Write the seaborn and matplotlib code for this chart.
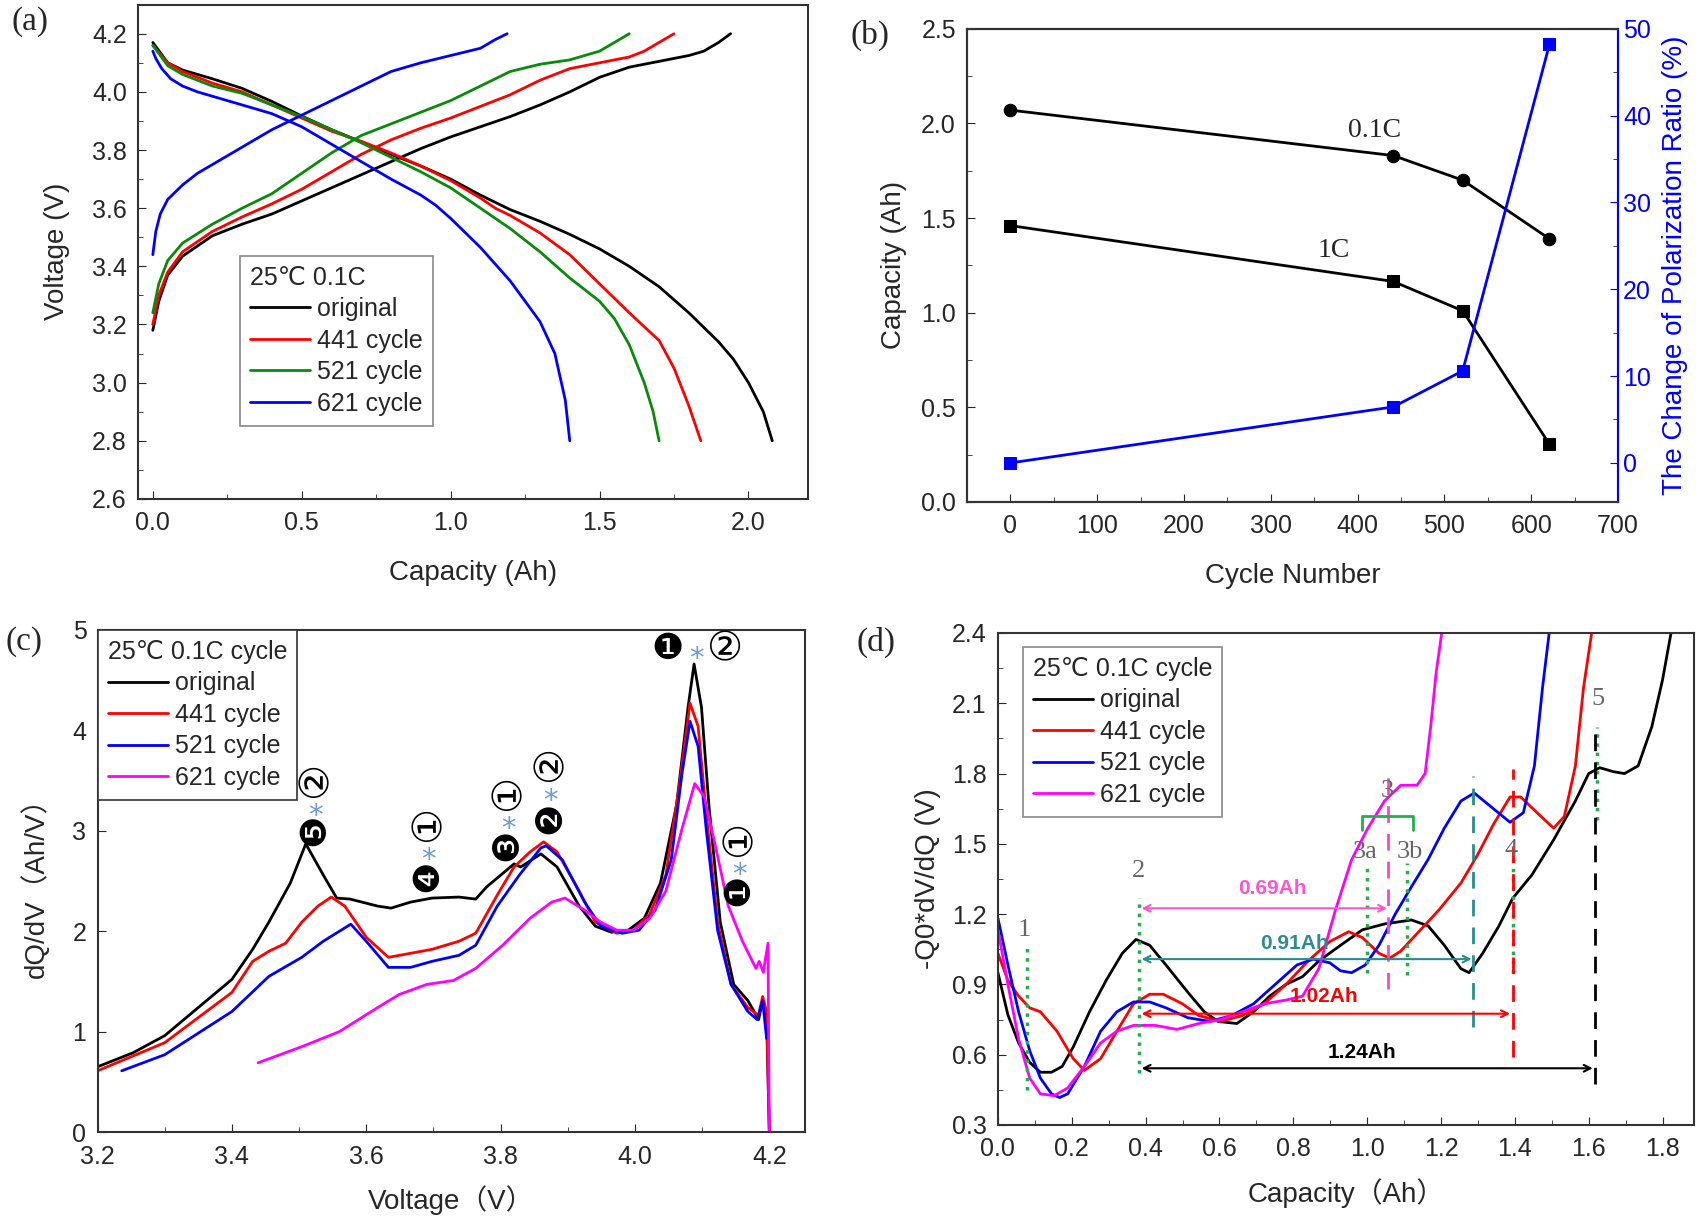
import numpy as np
import pandas as pd
import matplotlib
matplotlib.use("Agg")
import matplotlib.pyplot as plt
import seaborn as sns
from matplotlib.ticker import MultipleLocator

## (a) charge / discharge curves at 25C 0.1C
a_cap_dis_orig = [0, 0.05, 0.1, 0.2, 0.3, 0.4, 0.5, 0.6, 0.7, 0.8, 0.9, 1.0, 1.1, 1.2, 1.3, 1.4, 1.5, 1.6, 1.7, 1.8, 1.9, 1.95, 2.0, 2.05, 2.08]
a_v_dis_orig = [4.17, 4.10, 4.075, 4.045, 4.012, 3.967, 3.917, 3.87, 3.828, 3.785, 3.745, 3.70, 3.645, 3.595, 3.555, 3.51, 3.46, 3.40, 3.33, 3.24, 3.14, 3.08, 3.0, 2.9, 2.8]
a_cap_chg_orig = [0, 0.02, 0.05, 0.1, 0.2, 0.3, 0.4, 0.5, 0.6, 0.7, 0.8, 0.9, 1.0, 1.1, 1.2, 1.3, 1.4, 1.5, 1.6, 1.7, 1.8, 1.85, 1.9, 1.94]
a_v_chg_orig = [3.18, 3.28, 3.37, 3.435, 3.505, 3.545, 3.58, 3.625, 3.67, 3.715, 3.76, 3.805, 3.845, 3.88, 3.915, 3.955, 4.0, 4.05, 4.085, 4.105, 4.125, 4.14, 4.17, 4.2]

a_cap_dis_441 = [0, 0.05, 0.1, 0.2, 0.3, 0.4, 0.5, 0.6, 0.7, 0.8, 0.9, 1.0, 1.1, 1.15, 1.2, 1.3, 1.4, 1.5, 1.6, 1.7, 1.75, 1.8, 1.84]
a_v_dis_441 = [4.16, 4.10, 4.07, 4.03, 4.0, 3.955, 3.91, 3.865, 3.83, 3.79, 3.745, 3.695, 3.635, 3.60, 3.575, 3.515, 3.44, 3.34, 3.24, 3.145, 3.05, 2.92, 2.8]
a_cap_chg_441 = [0, 0.02, 0.05, 0.1, 0.2, 0.3, 0.4, 0.5, 0.6, 0.7, 0.8, 0.9, 1.0, 1.1, 1.2, 1.3, 1.4, 1.5, 1.6, 1.65, 1.7, 1.75]
a_v_chg_441 = [3.2, 3.30, 3.38, 3.45, 3.52, 3.57, 3.615, 3.665, 3.725, 3.785, 3.835, 3.875, 3.91, 3.95, 3.99, 4.04, 4.08, 4.10, 4.12, 4.14, 4.17, 4.2]

a_cap_dis_521 = [0, 0.05, 0.1, 0.2, 0.3, 0.4, 0.5, 0.6, 0.7, 0.8, 0.9, 1.0, 1.1, 1.2, 1.3, 1.4, 1.5, 1.55, 1.6, 1.65, 1.68, 1.70]
a_v_dis_521 = [4.16, 4.09, 4.06, 4.02, 3.995, 3.955, 3.915, 3.87, 3.825, 3.775, 3.725, 3.67, 3.60, 3.53, 3.45, 3.36, 3.28, 3.22, 3.13, 3.0, 2.9, 2.8]
a_cap_chg_521 = [0, 0.02, 0.05, 0.1, 0.2, 0.3, 0.4, 0.5, 0.6, 0.7, 0.8, 0.9, 1.0, 1.1, 1.2, 1.3, 1.4, 1.5, 1.55, 1.6]
a_v_chg_521 = [3.24, 3.34, 3.42, 3.48, 3.545, 3.60, 3.65, 3.72, 3.79, 3.85, 3.89, 3.93, 3.97, 4.02, 4.07, 4.095, 4.11, 4.14, 4.17, 4.2]

a_cap_dis_621 = [0, 0.01, 0.03, 0.06, 0.1, 0.15, 0.2, 0.3, 0.4, 0.5, 0.6, 0.7, 0.8, 0.9, 0.95, 1.0, 1.1, 1.2, 1.3, 1.35, 1.385, 1.40]
a_v_dis_621 = [4.14, 4.115, 4.08, 4.045, 4.02, 4.0, 3.985, 3.955, 3.925, 3.88, 3.82, 3.76, 3.70, 3.645, 3.61, 3.565, 3.465, 3.35, 3.21, 3.10, 2.94, 2.8]
a_cap_chg_621 = [0, 0.01, 0.025, 0.05, 0.1, 0.15, 0.2, 0.3, 0.4, 0.5, 0.6, 0.7, 0.8, 0.9, 1.0, 1.1, 1.15, 1.19]
a_v_chg_621 = [3.44, 3.52, 3.58, 3.63, 3.68, 3.72, 3.75, 3.81, 3.87, 3.92, 3.97, 4.02, 4.07, 4.10, 4.125, 4.15, 4.18, 4.2]

## (b) capacity fade and polarization
b_cycles = [0, 441, 521, 621]
b_cap_01c = [2.07, 1.83, 1.70, 1.39]
b_cap_1c = [1.46, 1.165, 1.01, 0.305]
b_polar = [0, 6.45, 10.6, 48.2]

## (c) dQ/dV
c_v_orig = [3.2, 3.253, 3.3, 3.35, 3.4, 3.431, 3.455, 3.487, 3.51, 3.536, 3.556, 3.576, 3.617, 3.637, 3.666, 3.698, 3.738, 3.763, 3.779, 3.82, 3.83, 3.86, 3.884, 3.917, 3.941, 3.965, 3.99, 4.014, 4.038, 4.062, 4.079, 4.088, 4.099, 4.11, 4.127, 4.147, 4.168, 4.184, 4.19, 4.196, 4.2]
c_dq_orig = [0.65, 0.79, 0.96, 1.24, 1.52, 1.82, 2.09, 2.48, 2.87, 2.56, 2.33, 2.32, 2.25, 2.23, 2.29, 2.33, 2.34, 2.32, 2.44, 2.67, 2.64, 2.77, 2.64, 2.25, 2.05, 1.99, 2.01, 2.13, 2.48, 3.26, 4.23, 4.66, 4.23, 3.26, 2.09, 1.47, 1.31, 1.12, 1.31, 1.12, 0.0]
c_v_441 = [3.2, 3.3, 3.4, 3.431, 3.455, 3.48, 3.504, 3.528, 3.548, 3.568, 3.6, 3.633, 3.666, 3.698, 3.738, 3.763, 3.795, 3.82, 3.844, 3.864, 3.884, 3.917, 3.941, 3.973, 3.998, 4.022, 4.046, 4.066, 4.082, 4.094, 4.106, 4.123, 4.143, 4.168, 4.184, 4.19, 4.196, 4.2]
c_dq_441 = [0.61, 0.89, 1.39, 1.70, 1.80, 1.88, 2.09, 2.25, 2.34, 2.25, 1.94, 1.74, 1.78, 1.82, 1.90, 1.98, 2.36, 2.64, 2.79, 2.89, 2.79, 2.40, 2.09, 1.98, 2.01, 2.17, 2.56, 3.45, 4.27, 4.04, 3.18, 2.09, 1.47, 1.24, 1.16, 1.35, 1.2, 0.0]
c_v_521 = [3.236, 3.3, 3.4, 3.455, 3.504, 3.536, 3.577, 3.6, 3.633, 3.666, 3.698, 3.738, 3.763, 3.795, 3.828, 3.86, 3.868, 3.892, 3.925, 3.949, 3.981, 4.006, 4.03, 4.054, 4.07, 4.082, 4.094, 4.106, 4.123, 4.143, 4.168, 4.182, 4.19, 4.196]
c_dq_521 = [0.61, 0.77, 1.20, 1.55, 1.74, 1.90, 2.07, 1.90, 1.64, 1.64, 1.70, 1.76, 1.86, 2.25, 2.56, 2.83, 2.85, 2.71, 2.29, 2.05, 1.98, 2.01, 2.21, 2.71, 3.57, 4.09, 3.84, 3.02, 2.01, 1.47, 1.20, 1.12, 1.31, 0.93]
c_v_621 = [3.439, 3.504, 3.56, 3.617, 3.649, 3.69, 3.73, 3.763, 3.803, 3.844, 3.876, 3.896, 3.925, 3.949, 3.973, 3.998, 4.022, 4.046, 4.07, 4.089, 4.103, 4.119, 4.139, 4.16, 4.18, 4.185, 4.191, 4.198, 4.2]
c_dq_621 = [0.69, 0.85, 1.0, 1.24, 1.37, 1.47, 1.51, 1.63, 1.86, 2.13, 2.29, 2.33, 2.21, 2.09, 2.01, 2.01, 2.13, 2.40, 3.02, 3.47, 3.34, 2.87, 2.25, 1.90, 1.63, 1.70, 1.59, 1.88, 0.0]

## (d) -Q0*dV/dQ
d_cap_orig = [0, 0.027, 0.056, 0.086, 0.115, 0.145, 0.174, 0.204, 0.248, 0.293, 0.337, 0.374, 0.411, 0.455, 0.514, 0.559, 0.596, 0.647, 0.692, 0.736, 0.78, 0.825, 0.869, 0.928, 0.987, 1.047, 1.12, 1.165, 1.209, 1.254, 1.276, 1.313, 1.357, 1.394, 1.446, 1.505, 1.564, 1.6, 1.63, 1.667, 1.697, 1.734, 1.771, 1.8, 1.823]
d_val_orig = [0.95, 0.77, 0.65, 0.567, 0.525, 0.525, 0.55, 0.633, 0.783, 0.917, 1.033, 1.092, 1.067, 0.983, 0.867, 0.783, 0.742, 0.733, 0.783, 0.85, 0.9, 0.933, 1.0, 1.067, 1.133, 1.158, 1.175, 1.15, 1.067, 0.967, 0.95, 1.033, 1.15, 1.267, 1.367, 1.517, 1.683, 1.8, 1.825, 1.808, 1.80, 1.833, 2.0, 2.2, 2.4]
d_cap_441 = [0, 0.027, 0.056, 0.086, 0.115, 0.16, 0.204, 0.234, 0.278, 0.322, 0.367, 0.411, 0.448, 0.5, 0.544, 0.603, 0.662, 0.721, 0.78, 0.84, 0.899, 0.95, 0.987, 1.032, 1.061, 1.091, 1.135, 1.194, 1.254, 1.298, 1.342, 1.387, 1.416, 1.46, 1.505, 1.534, 1.564, 1.586, 1.608]
d_val_441 = [1.033, 0.917, 0.85, 0.8, 0.783, 0.7, 0.583, 0.533, 0.583, 0.7, 0.817, 0.858, 0.858, 0.817, 0.767, 0.742, 0.767, 0.817, 0.9, 1.0, 1.083, 1.125, 1.10, 1.033, 1.012, 1.042, 1.117, 1.217, 1.333, 1.45, 1.583, 1.70, 1.70, 1.633, 1.567, 1.617, 1.833, 2.167, 2.4]
d_cap_521 = [0, 0.027, 0.056, 0.086, 0.115, 0.145, 0.167, 0.189, 0.234, 0.278, 0.322, 0.367, 0.411, 0.455, 0.514, 0.574, 0.633, 0.692, 0.751, 0.81, 0.854, 0.899, 0.928, 0.958, 0.995, 1.032, 1.076, 1.12, 1.165, 1.209, 1.254, 1.29, 1.342, 1.387, 1.423, 1.453, 1.475, 1.493]
d_val_521 = [1.183, 0.983, 0.783, 0.617, 0.50, 0.433, 0.417, 0.433, 0.55, 0.70, 0.783, 0.825, 0.825, 0.80, 0.758, 0.742, 0.767, 0.817, 0.90, 0.983, 1.008, 0.992, 0.958, 0.95, 0.983, 1.067, 1.20, 1.317, 1.433, 1.567, 1.683, 1.717, 1.65, 1.592, 1.633, 1.833, 2.167, 2.4]
d_cap_621 = [0, 0.027, 0.056, 0.086, 0.115, 0.152, 0.189, 0.234, 0.278, 0.322, 0.367, 0.426, 0.485, 0.544, 0.603, 0.662, 0.721, 0.78, 0.825, 0.869, 0.914, 0.958, 1.002, 1.047, 1.091, 1.135, 1.157, 1.172, 1.187, 1.202]
d_val_621 = [1.133, 0.90, 0.667, 0.50, 0.433, 0.425, 0.458, 0.55, 0.65, 0.70, 0.725, 0.725, 0.708, 0.733, 0.75, 0.783, 0.817, 0.833, 0.85, 0.967, 1.217, 1.433, 1.567, 1.683, 1.75, 1.75, 1.80, 2.0, 2.233, 2.4]

legend_names = ['original', '441 cycle', '521 cycle', '621 cycle']

sns.set_style("ticks")
plt.rcParams['font.family'] = ['Liberation Sans', 'DejaVu Sans', 'Noto Sans CJK SC']
plt.rcParams['xtick.direction'] = 'in'
plt.rcParams['ytick.direction'] = 'in'
plt.rcParams['axes.linewidth'] = 1.5
plt.rcParams['axes.edgecolor'] = '#333333'
plt.rcParams['xtick.major.size'] = 6
plt.rcParams['ytick.major.size'] = 6
plt.rcParams['xtick.minor.size'] = 3.5
plt.rcParams['ytick.minor.size'] = 3.5
TICK = 18
LAB = 20
LEGF = 18
SERIF = ['Liberation Serif', 'DejaVu Serif']


def draw(ax, x, y, color, lw=2.0, **kw):
    sns.lineplot(x=x, y=y, sort=False, estimator=None, color=color,
                 linewidth=lw, ax=ax, legend=False, **kw)
    return ax.lines[-1]


def make_legend(ax, handles, title, **kw):
    leg = ax.legend(handles, legend_names, title=title, fontsize=LEGF,
                    title_fontsize=LEGF, fancybox=False, handlelength=2.4,
                    handletextpad=0.3, labelspacing=0.3, borderpad=0.4,
                    alignment='left', framealpha=1, **kw)
    leg.get_frame().set_linewidth(1.2)
    return leg


fig = plt.figure(figsize=(17.05, 12.22), dpi=100)

# ---------------- (a)
axa = fig.add_axes([0.0809, 0.5917, 0.393, 0.4045])
cols_a = ['black', 'red', '#0a8a0a', 'blue']
curves_a = [(a_cap_dis_orig, a_v_dis_orig, a_cap_chg_orig, a_v_chg_orig),
            (a_cap_dis_441, a_v_dis_441, a_cap_chg_441, a_v_chg_441),
            (a_cap_dis_521, a_v_dis_521, a_cap_chg_521, a_v_chg_521),
            (a_cap_dis_621, a_v_dis_621, a_cap_chg_621, a_v_chg_621)]
handles_a = []
for (xd, yd, xc, yc), c in zip(curves_a, cols_a):
    h = draw(axa, xd, yd, c)
    draw(axa, xc, yc, c)
    handles_a.append(h)
axa.set_xlim(-0.05, 2.2)
axa.set_ylim(2.6, 4.3)
axa.xaxis.set_major_locator(MultipleLocator(0.5))
axa.xaxis.set_minor_locator(MultipleLocator(0.25))
axa.yaxis.set_major_locator(MultipleLocator(0.2))
axa.yaxis.set_minor_locator(MultipleLocator(0.1))
axa.set_xlabel('Capacity (Ah)', fontsize=LAB, labelpad=18)
axa.set_ylabel('Voltage (V)', fontsize=LAB, labelpad=16)
make_legend(axa, handles_a, '25℃ 0.1C', loc='lower left',
            bbox_to_anchor=(0.133, 0.123), edgecolor='#888888')

# ---------------- (b)
axb = fig.add_axes([0.5672, 0.5892, 0.3818, 0.3873])
sns.lineplot(x=b_cycles, y=b_cap_01c, color='black', marker='o', markersize=9,
             markeredgecolor='black', linewidth=2, ax=axb, legend=False)
sns.lineplot(x=b_cycles, y=b_cap_1c, color='black', marker='s', markersize=8,
             markeredgecolor='black', linewidth=2, ax=axb, legend=False)
axb.set_xlim(-50, 700)
axb.set_ylim(0, 2.5)
axb.xaxis.set_major_locator(MultipleLocator(100))
axb.xaxis.set_minor_locator(MultipleLocator(50))
axb.yaxis.set_major_locator(MultipleLocator(0.5))
axb.yaxis.set_minor_locator(MultipleLocator(0.25))
axb.set_xlabel('Cycle Number', fontsize=LAB, labelpad=18)
axb.set_ylabel('Capacity (Ah)', fontsize=LAB, labelpad=10)
axb.text(420, 1.96, '0.1C', fontsize=20, family=SERIF, ha='center', va='center')
axb.text(373, 1.33, '1C', fontsize=20, family=SERIF, ha='center', va='center')
axb2 = axb.twinx()
sns.lineplot(x=b_cycles, y=b_polar, color='blue', marker='s', markersize=8,
             markeredgecolor='blue', linewidth=2, ax=axb2, legend=False)
axb2.set_ylim(-4.5, 50)
axb2.yaxis.set_major_locator(MultipleLocator(10))
axb2.yaxis.set_minor_locator(MultipleLocator(5))
axb2.spines['right'].set_color('blue')
axb2.tick_params(axis='y', colors='blue', labelsize=TICK, direction='in')
axb2.set_ylabel('The Change of Polarization Ratio (%)', fontsize=LAB, color='blue', labelpad=8)

# ---------------- (c)
axc = fig.add_axes([0.0572, 0.0736, 0.4149, 0.4109])
cols = ['black', 'red', 'blue', '#ff00ff']
handles_c = []
for (x, y), c in zip([(c_v_orig, c_dq_orig), (c_v_441, c_dq_441),
                      (c_v_521, c_dq_521), (c_v_621, c_dq_621)], cols):
    handles_c.append(draw(axc, x, y, c))
axc.set_xlim(3.2, 4.253)
axc.set_ylim(0, 5)
axc.xaxis.set_major_locator(MultipleLocator(0.2))
axc.xaxis.set_minor_locator(MultipleLocator(0.1))
axc.yaxis.set_major_locator(MultipleLocator(1))
axc.set_xlabel('Voltage（V）', fontsize=LAB, labelpad=12)
axc.set_ylabel('dQ/dV（Ah/V）', fontsize=LAB, labelpad=16)
make_legend(axc, handles_c, '25℃ 0.1C cycle', loc='upper left',
            bbox_to_anchor=(0, 1), borderaxespad=0, edgecolor='#333333')

star = '#6a9ad8'
FILLED = 26
OPEN = 29
STAR = 21
stacks = [(3.524, [('❺', 3.01), ('*', 3.25), ('②', 3.52)]),
          (3.692, [('❹', 2.55), ('*', 2.81), ('①', 3.08)]),
          (3.811, [('❸', 2.86), ('*', 3.12), ('①', 3.39)]),
          (3.874, [('❷', 3.13), ('*', 3.40), ('②', 3.68)]),
          (4.155, [('❶', 2.41), ('*', 2.66), ('①', 2.93)])]
for x, items in stacks:
    for g, y in items:
        if g == '*':
            axc.text(x, y - 0.10, g, ha='center', va='center', fontsize=STAR,
                     color=star, family=['DejaVu Sans'])
        else:
            axc.text(x, y, g, rotation=90, ha='center', va='center',
                     fontsize=FILLED if g in '❶❷❸❹❺' else OPEN, color='black')
for x, g in [(4.048, '❶'), (4.091, '*'), (4.134, '②')]:
    if g == '*':
        axc.text(x, 4.81 - 0.10, g, ha='center', va='center', fontsize=STAR,
                 color=star, family=['DejaVu Sans'])
    else:
        axc.text(x, 4.81, g, ha='center', va='center',
                 fontsize=FILLED if g == '❶' else OPEN, color='black')

# ---------------- (d)
axd = fig.add_axes([0.5853, 0.0794, 0.4082, 0.4026])
handles_d = []
for (x, y), c in zip([(d_cap_orig, d_val_orig), (d_cap_441, d_val_441),
                      (d_cap_521, d_val_521), (d_cap_621, d_val_621)], cols):
    handles_d.append(draw(axd, x, y, c))
axd.set_xlim(0, 1.885)
axd.set_ylim(0.3, 2.4)
axd.xaxis.set_major_locator(MultipleLocator(0.2))
axd.xaxis.set_minor_locator(MultipleLocator(0.1))
axd.yaxis.set_major_locator(MultipleLocator(0.3))
axd.yaxis.set_minor_locator(MultipleLocator(0.15))
axd.set_xlabel('Capacity（Ah）', fontsize=LAB, labelpad=12)
axd.set_ylabel('-Q0*dV/dQ (V)', fontsize=LAB, labelpad=8)

green = '#22b04a'
teal = '#2a8c8c'
# dotted markers of the peaks
for x, y0, y1 in [(0.078, 0.45, 1.06), (0.381, 0.52, 1.27), (0.999, 0.95, 1.40),
                  (1.109, 0.94, 1.42), (1.394, 0.95, 1.45), (1.623, 1.60, 2.0)]:
    axd.plot([x, x], [y0, y1], color=green, ls=':', lw=2.5)
# dashed ends of each cycle
for x, y0, y1, c in [(1.057, 0.88, 1.80, '#ff44cc'), (1.286, 0.72, 1.79, teal),
                     (1.394, 0.59, 1.82, 'red'), (1.616, 0.475, 2.0, 'black')]:
    axd.plot([x, x], [y0, y1], color=c, ls=(0, (6, 4)), lw=2)
# bracket for peak 3
axd.plot([0.987, 0.987, 1.123, 1.123], [1.56, 1.617, 1.617, 1.56], color=green, lw=2)
for x, y, s in [(0.071, 1.133, '1'), (0.381, 1.383, '2'), (1.054, 1.725, '3'),
                (0.995, 1.467, '3a'), (1.117, 1.467, '3b'), (1.39, 1.475, '4'),
                (1.626, 2.117, '5')]:
    axd.text(x, y, s, ha='center', va='center', fontsize=19, color='#666666', family=SERIF)
for y, x1, c, s, tx, ty in [(1.225, 1.054, '#ff55cc', '0.69Ah', 0.744, 1.308),
                            (1.008, 1.283, teal, '0.91Ah', 0.803, 1.075),
                            (0.775, 1.387, 'red', '1.02Ah', 0.884, 0.85),
                            (0.542, 1.611, 'black', '1.24Ah', 0.987, 0.608)]:
    axd.annotate('', xy=(x1, y), xytext=(0.389, y),
                 arrowprops=dict(arrowstyle='<->', color=c, lw=1.5,
                                 shrinkA=0, shrinkB=0, mutation_scale=12))
    axd.text(tx, ty, s, ha='center', va='center', fontsize=15,
             fontweight='bold', color=c)
make_legend(axd, handles_d, '25℃ 0.1C cycle', loc='upper left',
            bbox_to_anchor=(0.036, 0.972), borderaxespad=0, edgecolor='#888888')

for ax in [axa, axb, axc, axd]:
    ax.tick_params(axis='both', which='both', labelsize=TICK, top=False, right=False)
    ax.tick_params(axis='x', pad=9)
    ax.tick_params(axis='y', pad=8)
axb2.tick_params(axis='y', which='both', left=False, right=True)

for s, x, y in [('(a)', 0.0176, 0.982), ('(b)', 0.510, 0.971),
                ('(c)', 0.014, 0.4746), ('(d)', 0.514, 0.474)]:
    fig.text(x, y, s, fontsize=24, family=SERIF, ha='center', va='center')

fig.savefig('out.png', dpi=100)
